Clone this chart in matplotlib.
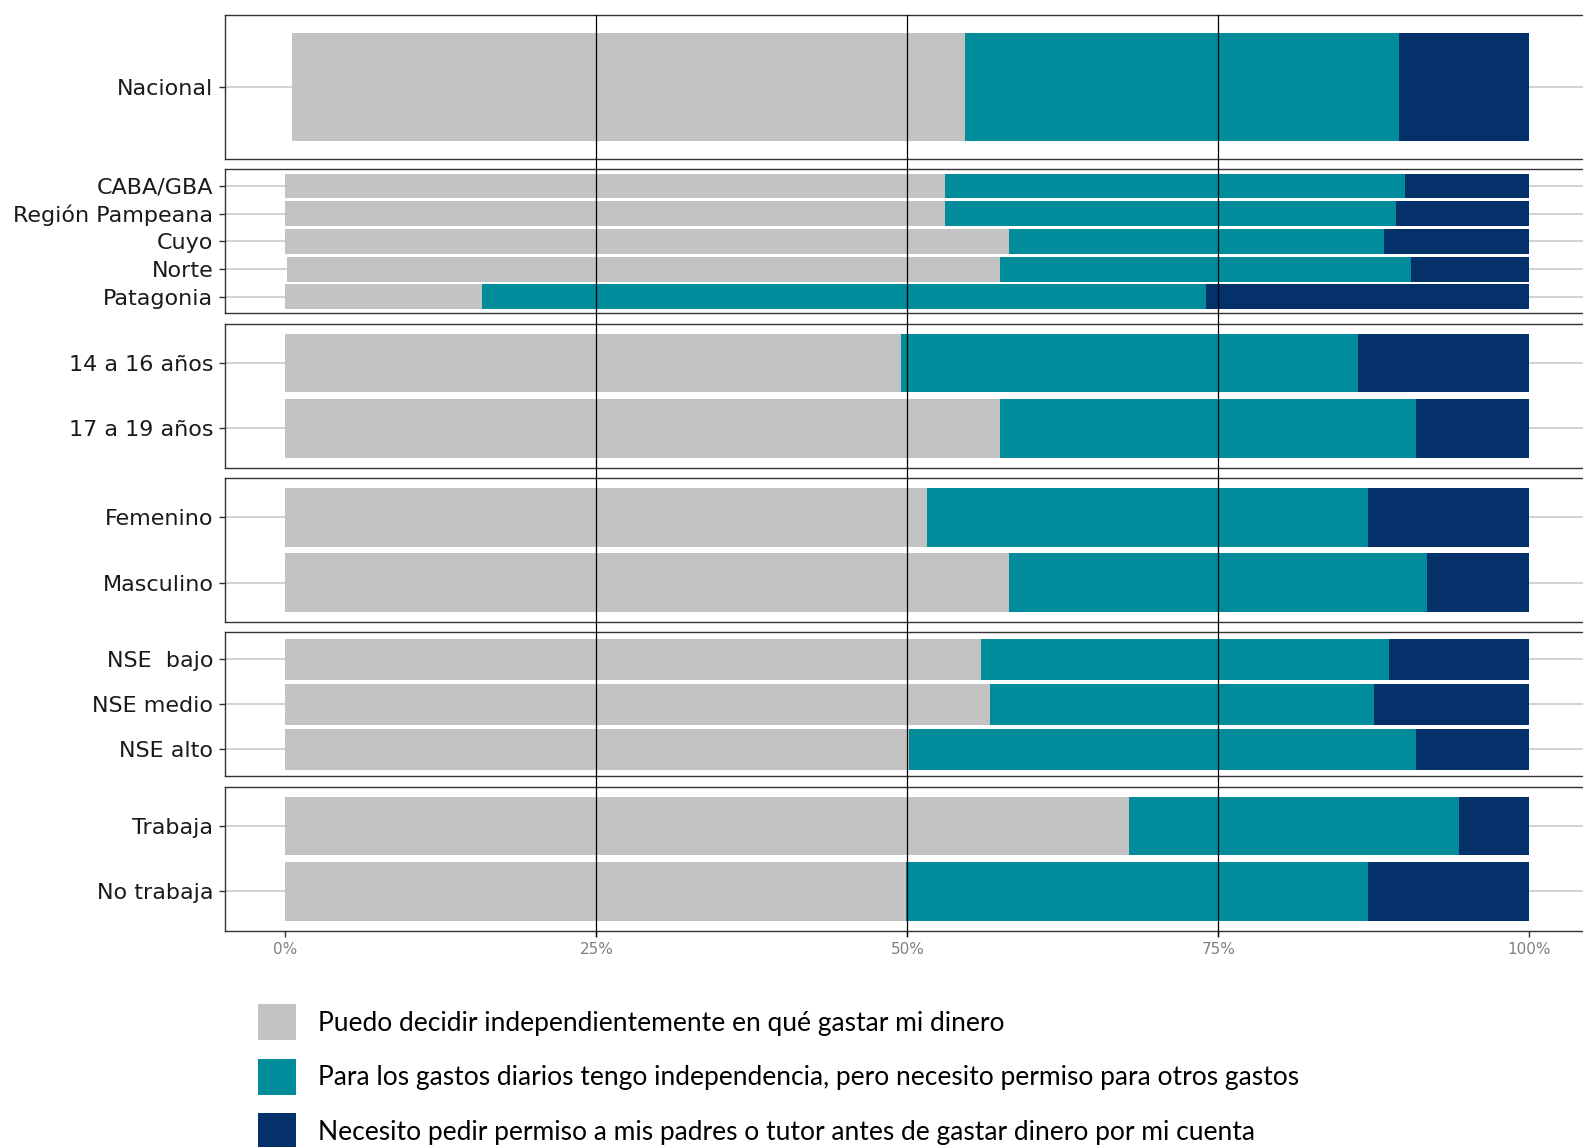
import matplotlib
matplotlib.use("Agg")
import matplotlib.pyplot as plt

# categories, grouped by panel (top to bottom)
groups = [
    ["Nacional"],
    ["CABA/GBA", "Región Pampeana", "Cuyo", "Norte", "Patagonia"],
    ["14 a 16 años", "17 a 19 años"],
    ["Femenino", "Masculino"],
    ["NSE  bajo", "NSE medio", "NSE alto"],
    ["Trabaja", "No trabaja"],
]

# percentages, in the same order as the flattened categories
ns_nc = [0.5, 0.0, 0.0, 0.0, 0.1, 0.0, 0.0, 0.0, 0.0, 0.0, 0.0, 0.0, 0.0, 0.0, 0.0]
independiente = [54.1, 53.0, 53.0, 58.2, 57.3, 15.8, 49.5, 57.4, 51.6, 58.2, 55.9, 56.6, 50.1, 67.8, 49.9]
diarios = [34.9, 37.0, 36.3, 30.1, 33.1, 58.2, 36.7, 33.5, 35.4, 33.6, 32.8, 30.9, 40.8, 26.5, 37.1]
permiso = [10.5, 10.0, 10.7, 11.7, 9.5, 26.0, 13.8, 9.1, 13.0, 8.2, 11.3, 12.5, 9.1, 5.7, 13.0]

series_labels = [
    "Puedo decidir independientemente en qué gastar mi dinero",
    "Para los gastos diarios tengo independencia, pero necesito permiso para otros gastos",
    "Necesito pedir permiso a mis padres o tutor antes de gastar dinero por mi cuenta",
]
colors = ["#c3c3c3", "#008c9b", "#04316a"]

x_ticks = [0, 25, 50, 75, 100]
ref_lines = [25, 50, 75]

W, H = 1583, 1147
fig = plt.figure(figsize=(W / 100, H / 100), dpi=100)


def px_box(left, top, width, height):
    return [left / W, 1 - (top + height) / H, width / W, height / H]


panel_left, panel_width = 225, 1366.7
x_lim = (-4.86, 105)
panel_h, panel_step, first_top = 144, 154.35, 15

start = 0
axes = []
for i, cats in enumerate(groups):
    n = len(cats)
    ax = fig.add_axes(px_box(panel_left, first_top + i * panel_step, panel_width, panel_h))
    pos = list(range(n))
    sl = slice(start, start + n)
    # no-answer share: left empty, as in the original
    left = list(ns_nc[sl])
    for vals, col, lab in zip([independiente, diarios, permiso], colors, series_labels):
        v = vals[sl]
        ax.barh(pos, v, left=left, height=0.9, color=col, linewidth=0, zorder=2,
                label=lab if i == 0 else None)
        left = [a + b for a, b in zip(left, v)]
    ax.set_xlim(*x_lim)
    ax.set_ylim(n - 0.4, -0.6)
    ax.set_yticks(pos)
    ax.set_yticklabels(cats, fontsize=16, color="#1a1a1a", family="DejaVu Sans")
    ax.grid(axis="y", color="#d2d2d2", linewidth=1.4, zorder=0)
    ax.set_axisbelow(True)
    for s in ax.spines.values():
        s.set_color("#333333")
        s.set_linewidth(1.0)
    ax.tick_params(axis="y", length=4.3, width=1.0, color="#333333", pad=4)
    ax.set_xticks(x_ticks)
    if i == len(groups) - 1:
        ax.set_xticklabels([f"{t}%" for t in x_ticks], fontsize=11, color="#808080")
        ax.tick_params(axis="x", length=4.3, width=1.0, color="#333333", pad=4)
    else:
        ax.tick_params(axis="x", length=0, labelbottom=False)
    axes.append(ax)
    start += n

# reference lines through all panels
ov = fig.add_axes(px_box(panel_left, 15, panel_width, 922))
ov.set_xlim(*x_lim)
ov.patch.set_alpha(0)
ov.axis("off")
for x in ref_lines:
    ov.axvline(x, color="black", linewidth=0.9)

handles, labels = axes[0].get_legend_handles_labels()
fig.legend(
    handles, labels, loc="upper left",
    bbox_to_anchor=(258 / W, 1 - 1004 / H), bbox_transform=fig.transFigure,
    frameon=False, borderpad=0, borderaxespad=0,
    prop={"family": "Lato", "size": 19},
    handlelength=1.44, handleheight=1.73, handletextpad=0.83, labelspacing=0.70,
)

fig.savefig("out.png", dpi=100)
